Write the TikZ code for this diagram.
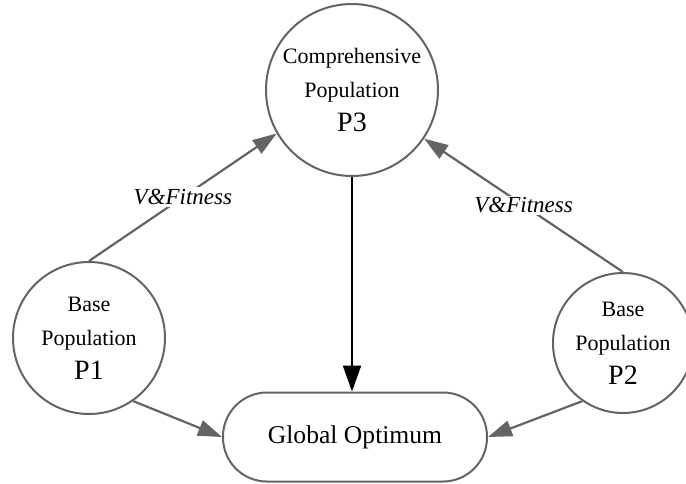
\documentclass[tikz,border=0pt]{standalone}
\usepackage{fontspec}
\setmainfont{Liberation Serif}
\usetikzlibrary{arrows.meta}
\definecolor{edgegray}{RGB}{100,100,100}

\begin{document}
\begin{tikzpicture}[x=0.5pt, y=-0.5pt,
  pop/.style={circle, draw=edgegray, line width=1pt, inner sep=0pt,
    align=center, font=\fontsize{11}{17}\selectfont},
  grayarrow/.style={draw=edgegray, line width=1.1pt,
    -{Triangle[length=12pt, width=8pt]}},
  fitlabel/.style={fill=white, inner sep=1pt, font=\fontsize{11.5}{14}\selectfont\itshape}]

\useasboundingbox (0,0) rectangle (686,483);

% === Populations ===
\node[pop, minimum size=172pt*0.5] (P3) at (352,90)
  {Comprehensive\\Population\\{\fontsize{14}{17}\selectfont P3}};
\node[pop, minimum size=152pt*0.5] (P1) at (89,338)
  {Base\\Population\\{\fontsize{14}{17}\selectfont P1}};
\node[pop, minimum size=140pt*0.5] (P2) at (623,343)
  {Base\\Population\\{\fontsize{14}{17}\selectfont P2}};

% === Result ===
\node[draw=edgegray, line width=1pt, rounded corners=22pt,
  minimum width=132pt, minimum height=44.5pt, font=\fontsize{12.8}{15}\selectfont]
  (Opt) at (355,437) {Global Optimum};

% === Connections ===
\draw[grayarrow] (P1.north) -- node[fitlabel] {V\&Fitness} (P3.210);
\draw[grayarrow] (P2.north) -- node[fitlabel] {V\&Fitness} (P3.-34);
\draw[grayarrow] (P1.-55) -- (Opt.west);
\draw[grayarrow] (P2.235) -- (Opt.east);
\draw[line width=1.1pt, -{Triangle[length=13pt, width=9pt]}] (P3.south) -- (P3.south |- Opt.north);
\end{tikzpicture}
\end{document}
